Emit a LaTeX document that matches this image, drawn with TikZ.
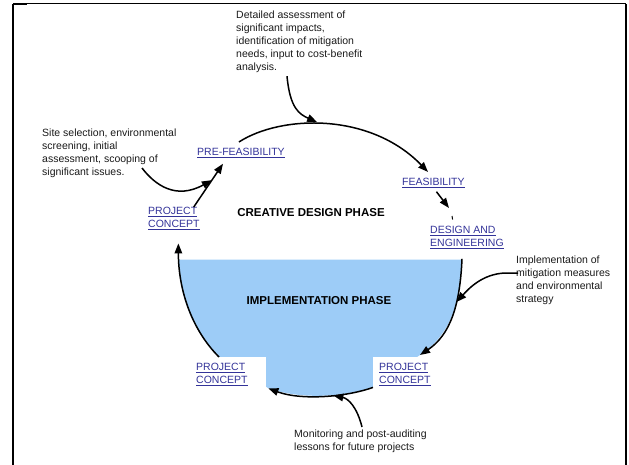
\documentclass[tikz,border=0pt]{standalone}
\usepackage{fontspec}
\setmainfont{Liberation Sans}
\usetikzlibrary{arrows.meta, positioning, calc}
\definecolor{LinkBlue}{HTML}{333399}
\definecolor{PhaseBlue}{HTML}{9DCCF7}
\definecolor{NoteGrey}{HTML}{1A1A1A}

\begin{document}
\begin{tikzpicture}[x=1pt, y=-1pt,
    note/.style={font=\fontsize{10.5}{13}\selectfont, text=NoteGrey, align=left, inner sep=0pt, anchor=north west},
    link/.style={font=\fontsize{10.5}{13}\selectfont, text=LinkBlue, align=left, inner sep=0pt},
    labelbox/.style={link, fill=white, anchor=north west, inner xsep=6pt, inner ysep=6pt, text width=64pt, minimum height=35pt},
    phase/.style={font=\fontsize{11.5}{14}\selectfont\bfseries},
    flow/.style={-{Triangle[length=10pt, width=7.5pt]}, line width=1.5pt}]
    \useasboundingbox (0,0) rectangle (629,465);

    % Frame
    \draw[line width=2.2pt] (13,465) -- (13,4);
    \draw[line width=2pt] (13,4.5) -- (27,4.5);
    \draw[line width=1pt] (13,4) -- (626,4);
    \draw[line width=2pt] (626,4) -- (626,465);

    % Implementation half
    \fill[PhaseBlue] (179,259.5) -- (462,259.5) .. controls (460,305) and (450,335) .. (420,355)
        -- (373,387) .. controls (345,397) and (300,400) .. (268,388)
        -- (219,357) .. controls (192,330) and (179,295) .. cycle;

    % Notes
    \node[note] (detail) at (236,11) {Detailed assessment of\\significant impacts,\\identification of mitigation\\needs, input to cost-benefit\\analysis.};
    \node[note] (site) at (42,129) {Site selection, environmental\\screening, initial\\assessment, scooping of\\significant issues.};
    \node[note] (implnote) at (516,256) {Implementation of\\mitigation measures\\and environmental\\strategy};
    \node[note] (monit) at (294,430) {Monitoring and post-auditing\\lessons for future projects};

    % Stages
    \node[link, anchor=base west] (prefeas) at (197,156) {\underline{PRE-FEASIBILITY}};
    \node[link, anchor=base west] (feas) at (402,186) {\underline{FEASIBILITY}};
    \node[link, anchor=north west] (design) at (430,226) {\underline{DESIGN AND}\\\underline{ENGINEERING}};
    \node[link, anchor=north west] (concept) at (148,207) {\underline{PROJECT}\\\underline{CONCEPT}};
    \node[labelbox] (conceptL) at (190,357) {\underline{PROJECT}\\\underline{CONCEPT}};
    \node[labelbox] (conceptR) at (373,357) {\underline{PROJECT}\\\underline{CONCEPT}};

    % Phases
    \node[phase] (creative) at (311,213) {CREATIVE DESIGN PHASE};
    \node[phase] (implement) at (319,301) {IMPLEMENTATION PHASE};

    % Cycle
    \draw[flow] ([xshift=-6pt]concept.north east) -- ([xshift=26pt,yshift=-5.4pt]prefeas.south west) coordinate[pos=0.62] (join);
    \draw[flow] ([xshift=-2pt,yshift=6.5pt]prefeas.north) .. controls +(42,-27) and +(-58,-60) .. ([xshift=26pt,yshift=6.5pt]feas.north west) coordinate[pos=0.45] (arctop);
    \draw[flow] ([xshift=3pt,yshift=-3.4pt]feas.south) -- ([xshift=19pt,yshift=18pt]design.north west);
    \draw[line width=1pt] ([xshift=22pt,yshift=10pt]design.north west) -- ++(0.6,3.5);
    \draw[flow] ([xshift=32pt,yshift=-10pt]design.south west) .. controls +(-2,47) and +(30,-20) .. ([xshift=47pt,yshift=2pt]conceptR.north west) coordinate[pos=0.35] (arcright);
    \draw[flow] ([yshift=5pt]conceptR.south west) .. controls +(-28,10) and +(32,12) .. ([xshift=2pt,yshift=4pt]conceptL.south east) coordinate[pos=0.4] (arcbottom);
    \draw[flow] ([xshift=29pt]conceptL.north west) .. controls +(-27,-27) and +(0,47) .. ([xshift=4.5pt,yshift=-13.6pt]concept.south);

    % Notes to cycle
    \draw[flow] ([xshift=51pt,yshift=-3pt]detail.south west) .. controls +(3,32) and +(-18,-8) .. ([yshift=1.5pt]arctop);
    \draw[flow] ([xshift=100pt,yshift=-39pt]site.north west) .. controls +(13,17) and +(-36,20) .. (join);
    \draw[flow] ([xshift=2pt,yshift=-17pt]implnote.north west) -- ++(-13,0) .. controls +(-23,1) and +(12,-13) .. (arcright);
    \draw[flow] ([xshift=68pt,yshift=3pt]monit.north west) .. controls +(-5,-20) and +(15,3) .. (arcbottom);
\end{tikzpicture}
\end{document}
